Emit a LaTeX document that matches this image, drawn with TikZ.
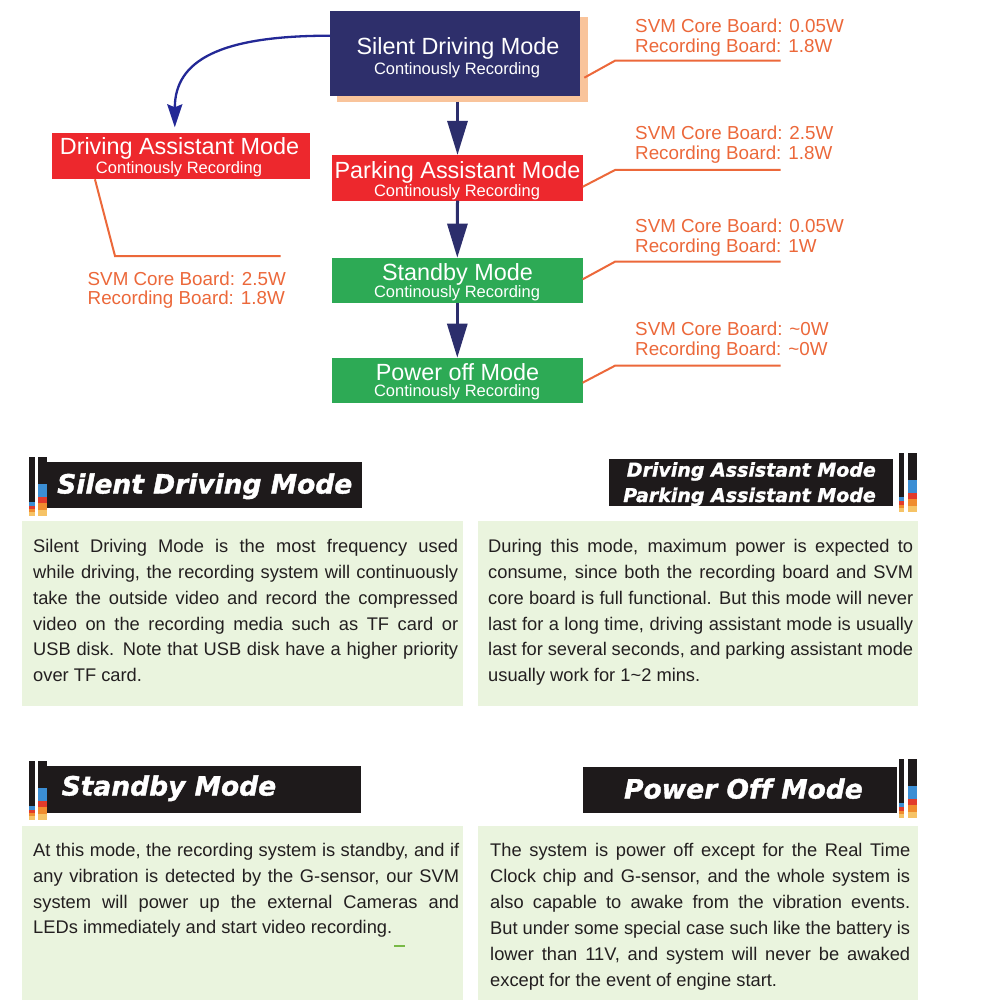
\documentclass[tikz,border=0pt]{standalone}
\usepackage{fontspec}
\setmainfont{Liberation Sans}
\newfontfamily\bannerfont[Ligatures=NoCommon,BoldItalicFeatures={FakeBold=1.4}]{DejaVu Sans}
\usetikzlibrary{arrows.meta,calc}
\definecolor{navybox}{RGB}{46,47,107}
\definecolor{navyarrow}{RGB}{44,46,108}
\definecolor{curveblue}{RGB}{35,40,150}
\definecolor{modered}{RGB}{237,40,45}
\definecolor{modegreen}{RGB}{45,170,85}
\definecolor{peach}{RGB}{249,196,155}
\definecolor{callorange}{RGB}{236,104,58}
\definecolor{bannerblack}{RGB}{30,26,27}
\definecolor{bodygreen}{RGB}{234,244,222}
\definecolor{bodytext}{RGB}{35,31,32}
\definecolor{stripeblue}{RGB}{59,142,212}
\definecolor{stripered}{RGB}{226,59,43}
\definecolor{stripeorange}{RGB}{240,140,46}
\definecolor{stripeyellow}{RGB}{246,195,102}
\definecolor{dashgreen}{RGB}{120,185,70}
% narrow and wide stripe bars: #1 = x left, #2 = y top
\newcommand\narrowbar[2]{%
  \fill[bannerblack] (#1,#2) rectangle ++(5.4,44.7);
  \fill[stripeblue] ($(#1,#2)+(0,44.7)$) rectangle ++(5.4,4);
  \fill[stripered] ($(#1,#2)+(0,48.7)$) rectangle ++(5.4,3.3);
  \fill[stripeorange] ($(#1,#2)+(0,52)$) rectangle ++(5.4,3.3);
  \fill[stripeyellow] ($(#1,#2)+(0,55.3)$) rectangle ++(5.4,3.7);}
\newcommand\widebar[2]{%
  \fill[bannerblack] (#1,#2) rectangle ++(9,27.3);
  \fill[stripeblue] ($(#1,#2)+(0,27.3)$) rectangle ++(9,13);
  \fill[stripered] ($(#1,#2)+(0,40.3)$) rectangle ++(9,6);
  \fill[stripeorange] ($(#1,#2)+(0,46.3)$) rectangle ++(9,6.7);
  \fill[stripeyellow] ($(#1,#2)+(0,53)$) rectangle ++(9,6);}
\tikzset{
  mbox/.style={inner sep=0pt, outer sep=0pt},
  mtitle/.style={text=white, font=\fontsize{23.4}{25}\selectfont, anchor=base, inner sep=0pt},
  msub/.style={text=white, font=\fontsize{16.5}{18}\selectfont, anchor=base, inner sep=0pt},
  flowarrow/.style={draw=navyarrow, line width=3pt, -{Triangle[width=20pt,length=34pt]}},
  curvearrow/.style={draw=curveblue, line width=2.3pt, -{Stealth[width=15pt,length=23pt,inset=3pt]}},
  callout/.style={draw=callorange, line width=2pt},
  calltext/.style={text=callorange, font=\fontsize{18.8}{21}\selectfont, anchor=base west, inner sep=0pt},
  bannertext/.style={text=white, font=\bannerfont\bfseries\itshape\fontsize{26.5}{28}\selectfont, inner sep=0pt},
  bannersmall/.style={text=white, font=\bannerfont\bfseries\itshape\fontsize{19}{21}\selectfont, inner sep=0pt, anchor=base east},
  bodyline/.style={text=bodytext, font=\fontsize{18.3}{20}\selectfont, anchor=base west, inner sep=0pt},
}
\begin{document}
\begin{tikzpicture}[x=1pt,y=-1pt]
\useasboundingbox (0,0) rectangle (1000,1000);
\fill[white] (0,0) rectangle (1000,1000);

% ---------- flow chart ----------
\node[mbox, fill=peach, minimum width=251pt, minimum height=85pt] (silentshadow) at (462.8,59.2) {};
\node[mbox, fill=navybox, minimum width=250pt, minimum height=85pt] (silent) at (455,53.2) {};
\node[mbox, fill=modered, minimum width=258.3pt, minimum height=46pt] (driving) at (180.8,156.3) {};
\node[mbox, fill=modered, minimum width=250.4pt, minimum height=45.7pt] (parking) at (457.5,177.8) {};
\node[mbox, fill=modegreen, minimum width=250.7pt, minimum height=45.6pt] (standby) at (457.3,280.5) {};
\node[mbox, fill=modegreen, minimum width=250.7pt, minimum height=45.6pt] (poweroff) at (457.3,380.5) {};

\node[mtitle] (silentT) at (458,55) {Silent Driving Mode};
\node[msub] (silentS) at (457,75) {Continously Recording};
\node[mtitle] (drivingT) at (179.5,155) {Driving Assistant Mode};
\node[msub] (drivingS) at (179,173.3) {Continously Recording};
\node[mtitle] (parkingT) at (457.5,178.3) {Parking Assistant Mode};
\node[msub] (parkingS) at (457,196.7) {Continously Recording};
\node[mtitle] (standbyT) at (457.5,280) {Standby Mode};
\node[msub] (standbyS) at (457,297.3) {Continously Recording};
\node[mtitle] (poweroffT) at (457.5,380) {Power off Mode};
\node[msub] (poweroffS) at (457,396.7) {Continously Recording};

% arrows
\draw[flowarrow] (silentshadow.south -| parking.north) -- (parking.north);
\draw[flowarrow] (parking.south) -- (standby.north);
\draw[flowarrow] (standby.south) -- (poweroff.north);
\draw[curvearrow] ($(silent.north west)+(0,25)$) .. controls +(-110,0) and +(0,-67) .. ($(driving.north)+(-6,-6)$);

% callouts
\coordinate (c1a) at (615,60.7);  \coordinate (c1b) at (780.7,60.7);
\coordinate (c2a) at (615,170);   \coordinate (c2b) at (780.7,170);
\coordinate (c3a) at (615,261.7); \coordinate (c3b) at (780.7,261.7);
\coordinate (c4a) at (615,365.7); \coordinate (c4b) at (780.7,365.7);
\coordinate (c5a) at (115,256);   \coordinate (c5b) at (280.7,256);
\draw[callout] ($(silentshadow.south east)+(-4,-24)$) -- (c1a) -- (c1b);
\draw[callout] ($(parking.east)+(0,9)$) -- (c2a) -- (c2b);
\draw[callout] ($(standby.east)+(0,-1.2)$) -- (c3a) -- (c3b);
\draw[callout] ($(poweroff.east)+(0,2.2)$) -- (c4a) -- (c4b);
\draw[callout] ($(driving.south west)+(43.3,0)$) -- (c5a) -- (c5b);

\node[calltext] (t1a) at (635,32.7) {SVM Core Board: 0.05W};
\node[calltext] (t1b) at (635,52.9) {Recording Board: 1.8W};
\node[calltext] (t2a) at (635,139.3) {SVM Core Board: 2.5W};
\node[calltext] (t2b) at (635,159.3) {Recording Board: 1.8W};
\node[calltext] (t3a) at (635,232.7) {SVM Core Board: 0.05W};
\node[calltext] (t3b) at (635,252.7) {Recording Board: 1W};
\node[calltext] (t4a) at (635,335) {SVM Core Board: \textasciitilde0W};
\node[calltext] (t4b) at (635,355) {Recording Board: \textasciitilde0W};
\node[calltext] (t5a) at (87.5,285) {SVM Core Board: 2.5W};
\node[calltext] (t5b) at (87.5,304.3) {Recording Board: 1.8W};

% ---------- descriptions ----------
\fill[bodygreen] (22,521) rectangle (463,706);
\fill[bodygreen] (478,521) rectangle (918,706);
\fill[bodygreen] (22,826) rectangle (463,1000);
\fill[bodygreen] (478,826) rectangle (918,1000);

% banners
\fill[bannerblack] (46.7,461.7) rectangle (361.7,507.7);
\narrowbar{29.3}{457}
\widebar{38}{457}
\node[bannertext, anchor=base west] (ban1) at (57,493.5) {Silent Driving Mode};

\fill[bannerblack] (609,459) rectangle (893,506);
\narrowbar{899}{452.5}
\widebar{907.5}{452.5}
\node[bannersmall] (ban2a) at (876,476.6) {Driving Assistant Mode};
\node[bannersmall] (ban2b) at (876,502) {Parking Assistant Mode};

\fill[bannerblack] (47,766) rectangle (361,813);
\narrowbar{29.3}{761}
\widebar{38}{761}
\node[bannertext, anchor=base west] (ban3) at (61.5,795.5) {Standby Mode};

\fill[bannerblack] (583,767) rectangle (897,813);
\narrowbar{899}{758.5}
\widebar{908}{758.5}
\node[bannertext, anchor=base east] (ban4) at (863,798.5) {Power Off Mode};

% body text, box 1
\node[bodyline] (p1l1) at (33,552) {\makebox[425pt][s]{Silent Driving Mode is the most frequency used}};
\node[bodyline] (p1l2) at (33,578) {\makebox[425pt][s]{while driving, the recording system will continuously}};
\node[bodyline] (p1l3) at (33,604) {\makebox[425pt][s]{take the outside video and record the compressed}};
\node[bodyline] (p1l4) at (33,630) {\makebox[425pt][s]{video on the recording media such as TF card or}};
\node[bodyline] (p1l5) at (33,655.5) {\makebox[425pt][s]{USB disk. Note that USB disk have a higher priority}};
\node[bodyline] (p1l6) at (33,681.5) {over TF card.};

% body text, box 2
\node[bodyline] (p2l1) at (488,552) {\makebox[425pt][s]{During this mode, maximum power is expected to}};
\node[bodyline] (p2l2) at (488,578) {\makebox[425pt][s]{consume, since both the recording board and SVM}};
\node[bodyline] (p2l3) at (488,604) {\makebox[425pt][s]{core board is full functional. But this mode will never}};
\node[bodyline] (p2l4) at (488,630) {\makebox[425pt][s]{last for a long time, driving assistant mode is usually}};
\node[bodyline] (p2l5) at (488,655.5) {\makebox[425pt][s]{last for several seconds, and parking assistant mode}};
\node[bodyline] (p2l6) at (488,681.5) {usually work for 1\textasciitilde2 mins.};

% body text, box 3
\node[bodyline] (p3l1) at (33,856) {\makebox[426pt][s]{At this mode, the recording system is standby, and if}};
\node[bodyline] (p3l2) at (33,882) {\makebox[426pt][s]{any vibration is detected by the G-sensor, our SVM}};
\node[bodyline] (p3l3) at (33,908) {\makebox[426pt][s]{system will power up the external Cameras and}};
\node[bodyline] (p3l4) at (33,933.5) {LEDs immediately and start video recording.};
\draw[dashgreen, line width=1.3pt] (394,946) -- (405,946);

% body text, box 4
\node[bodyline] (p4l1) at (490,856) {\makebox[420pt][s]{The system is power off except for the Real Time}};
\node[bodyline] (p4l2) at (490,882) {\makebox[420pt][s]{Clock chip and G-sensor, and the whole system is}};
\node[bodyline] (p4l3) at (490,908) {\makebox[420pt][s]{also capable to awake from the vibration events.}};
\node[bodyline] (p4l4) at (490,934) {\makebox[420pt][s]{But under some special case such like the battery is}};
\node[bodyline] (p4l5) at (490,960) {\makebox[420pt][s]{lower than 11V, and system will never be awaked}};
\node[bodyline] (p4l6) at (490,986) {except for the event of engine start.};
\end{tikzpicture}
\end{document}
